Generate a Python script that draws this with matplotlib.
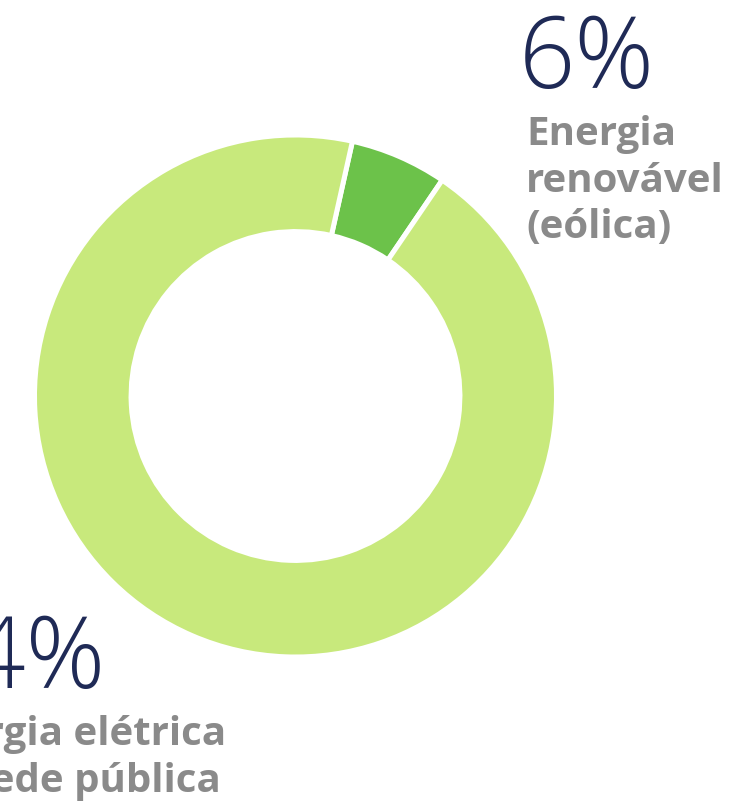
import matplotlib.pyplot as plt

# dados do gráfico
valores = [6, 94]
cores = ['#6cc24a', '#c8e97c']
pct_txt = ['6%', '94%']
rotulos = ['Energia\nrenovável\n(eólica)', 'Energia elétrica\nda rede pública']

W, H = 732, 801
fig = plt.figure(figsize=(W / 100, H / 100), dpi=100)

cx, cy, r = 295.5, 396, 261
ax = fig.add_axes([(cx - r) / W, (H - cy - r) / H, 2 * r / W, 2 * r / H])
ax.pie(valores, colors=cores, startangle=90 - 12.6, counterclock=False,
       radius=1, wedgeprops=dict(width=0.37, edgecolor='white', linewidth=3.6))
ax.set_xlim(-1, 1)
ax.set_ylim(-1, 1)
ax.set_aspect('equal')
ax.axis('off')

def px(x, y):
    return x / W, 1 - y / H

azul = '#1f2a56'
cinza = '#8a8a8a'

# 6%
fig.text(*px(519, 88), pct_txt[0], fontsize=71, color=azul, family='Open Sans',
         weight='light', va='baseline', ha='left')
fig.text(*px(526, 238), rotulos[0], fontsize=29, color=cinza, family='Open Sans',
         weight='bold', va='baseline', ha='left', linespacing=1.25)

# 94%
fig.text(*px(-86, 688), pct_txt[1], fontsize=71, color=azul, family='Open Sans',
         weight='light', va='baseline', ha='left')
fig.text(*px(-87, 792), rotulos[1], fontsize=29, color=cinza, family='Open Sans',
         weight='bold', va='baseline', ha='left', linespacing=1.25)

fig.savefig('out.png', dpi=100)
